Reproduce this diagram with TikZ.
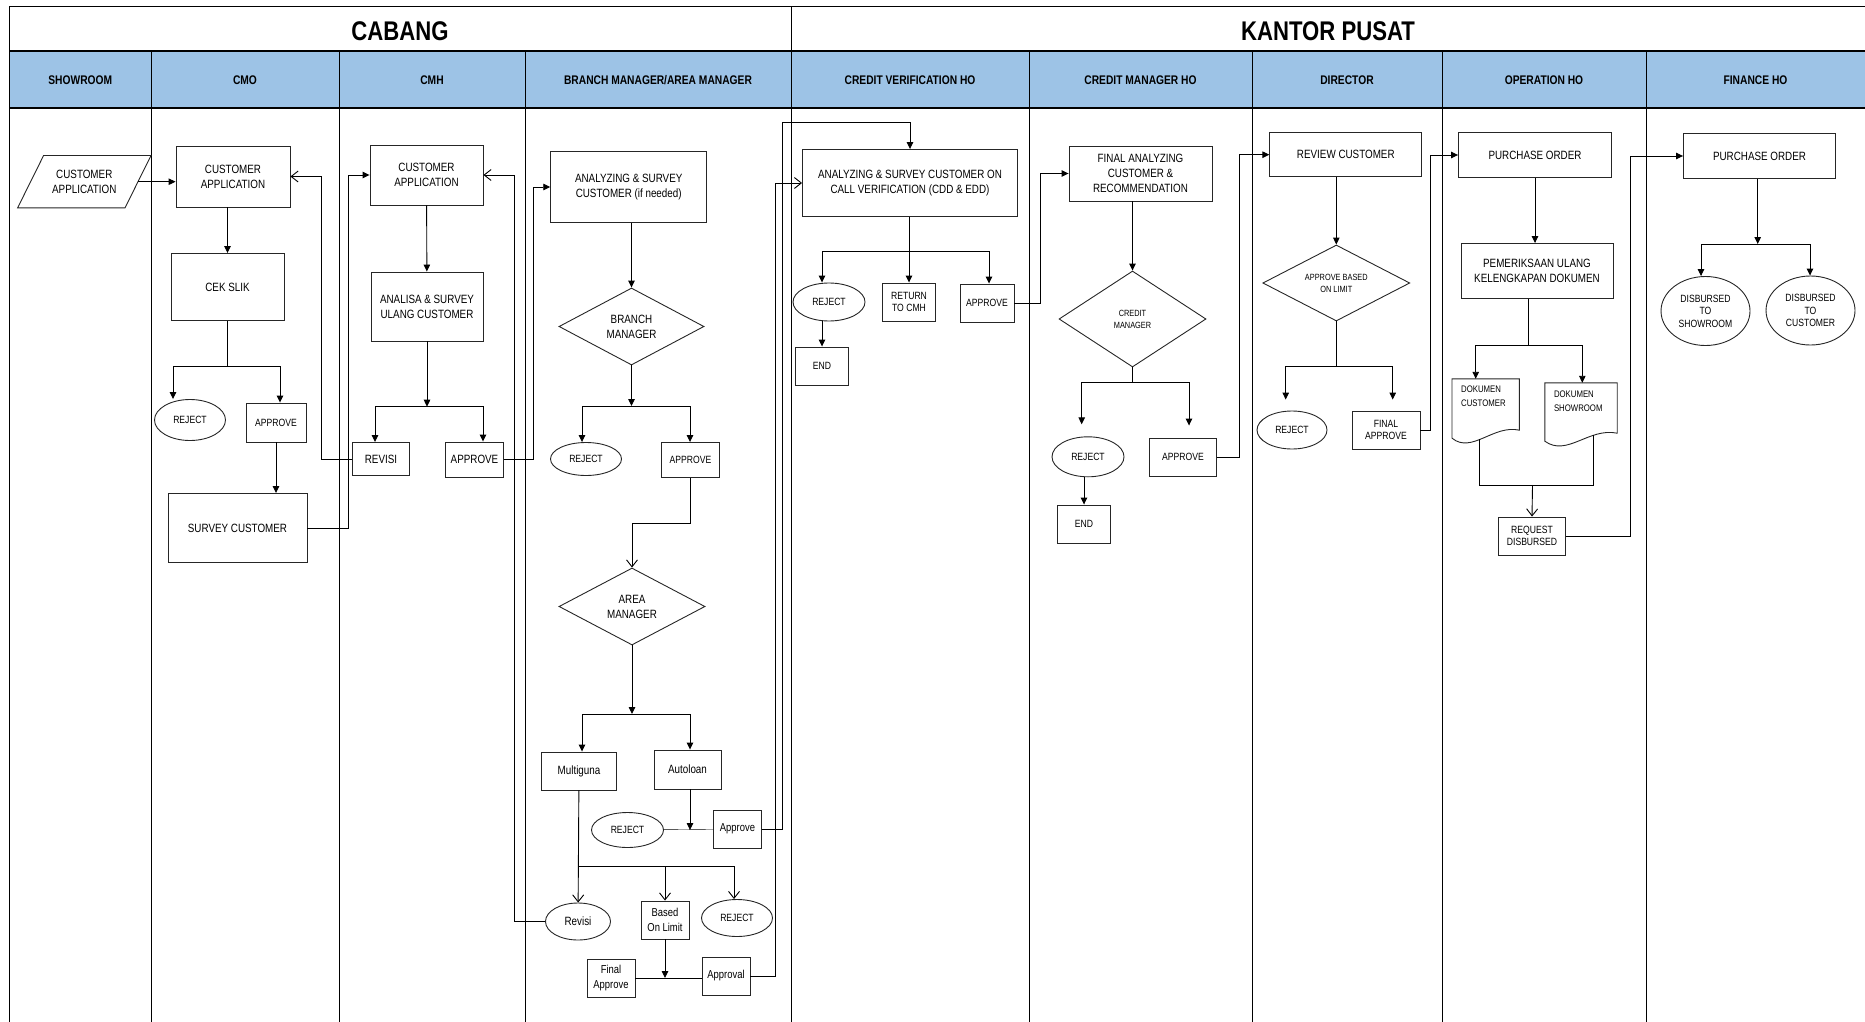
\documentclass[tikz,border=0pt]{standalone}
\usepackage{fontspec}
\setmainfont{Liberation Sans}[FakeStretch=0.82]
\usetikzlibrary{arrows.meta,shapes.geometric,positioning,calc}

\definecolor{headblue}{RGB}{157,195,230}
\newcommand{\fa}{\fontsize{12}{15}\selectfont}
\newcommand{\fb}{\fontsize{10.5}{12.5}\selectfont}
\newcommand{\fc}{\fontsize{9}{12}\selectfont}
\newcommand{\fd}{\fontsize{11.5}{15}\selectfont}
\newcommand{\docshape}[1]{%
  \draw[line width=0.9pt, draw=black!85] (#1.north west) -- (#1.north east) -- ([yshift=12pt]#1.south east)
    .. controls ([xshift=8pt,yshift=18pt]#1.south) and ([xshift=-14pt,yshift=-12pt]#1.south) .. ([yshift=4pt]#1.south west) -- cycle;}

\tikzset{
  sz/.style 2 args={minimum width=#1pt, minimum height=#2pt},
  box/.style={draw=black!85, line width=0.9pt, rectangle, align=center, inner sep=1pt, font=\fa},
  oval/.style={draw=black!85, line width=0.9pt, ellipse, align=center, inner sep=0pt, font=\fb},
  dec/.style={draw=black!85, line width=0.9pt, diamond, aspect=2, align=center, inner sep=0pt, font=\fa},
  docbox/.style={rectangle, inner sep=0pt},
  doctext/.style={align=left, inner sep=0pt, font=\fontsize{9.5}{14}\selectfont},
  arr/.style={-{Triangle[length=7pt,width=6.5pt]}, line width=0.9pt},
  oarr/.style={-{Straight Barb[length=7pt,width=11pt]}, line width=0.9pt},
  lanehead/.style={font=\bfseries\fontsize{12.5}{14}\selectfont},
  bigtitle/.style={font=\bfseries\fontsize{27}{30}\selectfont},
}

\begin{document}
\begin{tikzpicture}[x=1pt, y=-1pt]
\useasboundingbox (0,0) rectangle (1865,1022);

% lanes
\fill[headblue] (9.5,51) rectangle (1865,108);
\draw[line width=1pt] (9.5,1022) -- (9.5,7) -- (1865,7);
\draw[line width=2.5pt] (9.5,51) -- (1865,51);
\draw[line width=1.8pt] (9.5,108) -- (1865,108);
\draw[line width=1pt] (791,7) -- (791,1022);
\foreach \x in {151,339,525,1029,1252,1442,1646}
  \draw[line width=1pt] (\x,51) -- (\x,1022);
\node[bigtitle] (cabang) at (400,31) {CABANG};
\node[bigtitle] (pusat) at (1328,31) {KANTOR PUSAT};
\foreach \xa/\xb/\lbl [count=\i] in {9.5/151/SHOWROOM, 151/339/CMO, 339/525/CMH,
    525/791/{BRANCH MANAGER/AREA MANAGER}, 791/1029/CREDIT VERIFICATION HO,
    1029/1252/CREDIT MANAGER HO, 1252/1442/DIRECTOR, 1442/1646/OPERATION HO, 1646/1865/FINANCE HO}
  \node[lanehead] (lane\i) at ({(\xa+\xb)/2},80) {\lbl};

% showroom
\node[docbox, font=\fa, align=center, sz={133}{52}] (srApp) at (84.3,181.7) {CUSTOMER\\APPLICATION};
\draw[line width=0.9pt, draw=black!85] ([xshift=26pt]srApp.north west) -- (srApp.north east)
  -- ([xshift=-26pt]srApp.south east) -- (srApp.south west) -- cycle;
\coordinate (srOut) at ([xshift=-13pt]srApp.east);

% cmo
\node[box, sz={114}{61}] (cmoApp) at (233,176.5) {CUSTOMER\\APPLICATION};
\node[box, sz={113}{67}] (cmoSlik) at (227.5,287) {CEK SLIK};
\node[oval, sz={71}{41}] (cmoRej) at (190,420) {REJECT};
\node[box, font=\fb, sz={60}{39}] (cmoApr) at (276,422.5) {APPROVE};
\node[box, sz={139}{69}] (cmoSurvey) at (237.5,528) {SURVEY CUSTOMER};

% cmh
\node[box, sz={113}{60}] (cmhApp) at (426.5,175) {CUSTOMER\\APPLICATION};
\node[box, sz={112}{69}] (cmhAna) at (427,306.5) {ANALISA \& SURVEY\\ULANG CUSTOMER};
\node[box, sz={57}{33}] (cmhRev) at (381,459) {REVISI};
\node[box, sz={58}{35}] (cmhApr) at (474.5,459.5) {APPROVE};

% branch manager / area manager
\node[box, sz={156}{71}] (bmAna) at (628.7,187) {ANALYZING \& SURVEY\\CUSTOMER (if needed)};
\node[dec, sz={145}{77}] (bmDec) at (631.5,326.5) {BRANCH\\MANAGER};
\node[oval, sz={71}{33}] (bmRej) at (586,459) {REJECT};
\node[box, font=\fb, sz={58}{35}] (bmApr) at (690.5,460) {APPROVE};
\node[dec, sz={146}{77}] (amDec) at (632,606.5) {AREA\\MANAGER};
\node[box, sz={75}{38}] (amMulti) at (579,771) {Multiguna};
\node[box, sz={67}{39}] (amAuto) at (687.5,769.5) {Autoloan};
\node[oval, sz={72}{35}] (amRej) at (627.5,830) {REJECT};
\node[box, font=\fd, sz={48}{38}] (amApr) at (737.5,829) {Approve};
\node[oval, font=\fa, sz={65}{37}] (amRev) at (578,921.5) {Revisi};
\node[box, font=\fd, sz={48}{38}] (amBol) at (665,920) {Based\\On Limit};
\node[oval, sz={71}{37}] (amRej2) at (737,918) {REJECT};
\node[box, font=\fd, sz={48}{38}] (amFin) at (611,978) {Final\\Approve};
\node[box, font=\fd, sz={48}{38}] (amAppr) at (726,976) {Approval};

% credit verification ho
\node[box, sz={215}{67}] (cvBox) at (910,183) {ANALYZING \& SURVEY CUSTOMER ON\\CALL VERIFICATION (CDD \& EDD)};
\node[oval, sz={72}{38}] (cvRej) at (829,302) {REJECT};
\node[box, font=\fb, sz={53}{38}] (cvRet) at (909,302) {RETURN\\TO CMH};
\node[box, font=\fb, sz={54}{38}] (cvApr) at (987,303) {APPROVE};
\node[box, font=\fb, sz={53}{38}] (cvEnd) at (822,366) {END};

% credit manager ho
\node[box, sz={143}{55}] (fnBox) at (1140.5,173.5) {FINAL ANALYZING\\CUSTOMER \&\\RECOMMENDATION};
\node[dec, font=\fc, sz={147}{96}] (cmDec) at (1132.5,319) {CREDIT\\MANAGER};
\node[oval, sz={72}{40}] (cmRej) at (1088,456.8) {REJECT};
\node[box, font=\fb, sz={67}{38}] (cmApr) at (1183,457) {APPROVE};
\node[box, font=\fb, sz={53}{38}] (cmEnd) at (1084,524) {END};

% director
\node[box, sz={152}{44}] (revBox) at (1345.8,154.7) {REVIEW CUSTOMER};
\node[dec, font=\fc, sz={147}{76}] (dirDec) at (1336.3,283) {APPROVE BASED\\ON LIMIT};
\node[oval, sz={70}{38}] (dirRej) at (1292,430) {REJECT};
\node[box, font=\fb, sz={68}{38}] (dirFin) at (1386,430) {FINAL\\APPROVE};

% operation ho
\node[box, sz={153}{45}] (opPO) at (1535,155) {PURCHASE ORDER};
\node[box, sz={152}{55}] (opChk) at (1537,271) {PEMERIKSAAN ULANG\\KELENGKAPAN DOKUMEN};
\node[docbox, sz={67}{63}] (opDocC) at (1485.7,410.5) {};
\node[docbox, sz={72}{62}] (opDocS) at (1581,414) {};
\docshape{opDocC}
\docshape{opDocS}
\node[doctext, anchor=north west] (opDocCt) at ([xshift=9pt,yshift=-7pt]opDocC.north west) {DOKUMEN\\CUSTOMER};
\node[doctext, anchor=north west] (opDocSt) at ([xshift=9pt,yshift=-8pt]opDocS.north west) {DOKUMEN\\SHOWROOM};
\node[box, font=\fb, sz={67}{38}] (opReq) at (1532,536) {REQUEST\\DISBURSED};

% finance ho
\node[box, sz={152}{45}] (fiPO) at (1759.5,156) {PURCHASE ORDER};
\node[oval, sz={89}{69}] (fiShow) at (1705.5,311) {DISBURSED\\TO\\SHOWROOM};
\node[oval, sz={89}{69}] (fiCust) at (1810.5,310.5) {DISBURSED\\TO\\CUSTOMER};

% bend points
\coordinate (cmoJl) at (173,366);
\coordinate (cmoJr) at (280,366);
\coordinate (svUp) at ($(cmhApp.west)+(-21,0)$);
\coordinate (rvUp) at ($(cmoApp.east)+(30.5,0)$);
\coordinate (cmhJ) at (427,406.7);
\coordinate (cmhJl) at (375,406.7);
\coordinate (cmhJr) at (483,406.7);
\coordinate (apUp) at ($(bmAna.west)+(-17,0)$);
\coordinate (bmJ) at (631.5,406);
\coordinate (bmJl) at (582,406);
\coordinate (bmJr) at (690,406);
\coordinate (amBend) at (632,523);
\coordinate (amJ) at (632,714);
\coordinate (amJl) at (582,714);
\coordinate (amJr) at (690,714);
\coordinate (aaUp) at (782,122);
\coordinate (muJ) at (578.5,866);
\coordinate (muJm) at (665,866);
\coordinate (muJr) at (734,866);
\coordinate (alUp) at ($(cvBox.west)+(-26.7,0)$);
\coordinate (rvBack) at ($(cmhApp.east)+(31,0)$);
\coordinate (cvJ) at (909,251.7);
\coordinate (cvJl) at (822,251.7);
\coordinate (cvJr) at (989,251.7);
\coordinate (cvUp) at ($(fnBox.west)+(-28,0)$);
\coordinate (cmJ) at (1132.5,382.7);
\coordinate (cmJl) at (1081.7,382.7);
\coordinate (cmJr) at (1189,382.7);
\coordinate (cmUp) at ($(revBox.west)+(-30,0)$);
\coordinate (dirJ) at (1336.3,366);
\coordinate (dirJl) at (1285.7,366);
\coordinate (dirJr) at (1392.7,366);
\coordinate (dfUp) at ($(opPO.west)+(-28,0)$);
\coordinate (opJ) at (1528,345);
\coordinate (opJl) at (1475.7,345);
\coordinate (opJr) at (1582.3,345);
\coordinate (dcOutL) at ($(opDocC.south)+(-6.4,-3)$);
\coordinate (dcOutR) at ($(opDocS.south)+(12.3,-10)$);
\coordinate (dcJl) at (1479.3,485);
\coordinate (dcJr) at (1593.3,485);
\coordinate (dcJ) at (1532.5,485);
\coordinate (rqUp) at ($(fiPO.west)+(-52.6,0)$);
\coordinate (fiJ) at (1757.7,244);
\coordinate (fiJl) at (1701,244);
\coordinate (fiJr) at (1810,244);

% cabang flow
\draw[arr] (srOut) -- (srOut -| cmoApp.west);
\draw[arr] (cmoApp.south -| cmoSlik) -- (cmoSlik.north);
\draw[arr] (cmoSlik.south) |- (cmoJl) -- (cmoJl |- cmoRej.north);
\draw[arr] (cmoJl) -- (cmoJr) -- (cmoJr |- cmoApr.north);
\draw[arr] (cmoApr) -- (cmoApr |- cmoSurvey.north);
\draw[arr] (cmoSurvey.east) -| (svUp) -- (cmhApp.west);
\draw[oarr] (cmhRev.west) -| (rvUp) -- (cmoApp.east);
\draw[arr] (cmhApp) -- (cmhAna);
\draw[arr] (cmhAna) -- (cmhJ);
\draw[arr] (cmhJ) -- (cmhJl) -- (cmhJl |- cmhRev.north);
\draw[arr] (cmhJ) -- (cmhJr) -- (cmhJr |- cmhApr.north);
\draw[arr] (cmhApr.east) -| (apUp) -- (bmAna.west);
\draw[arr] (bmAna.south -| bmDec) -- (bmDec.north);
\draw[arr] (bmDec) -- (bmJ);
\draw[arr] (bmJ) -- (bmJl) -- (bmJl |- bmRej.north);
\draw[arr] (bmJ) -- (bmJr) -- (bmJr |- bmApr.north);
\draw[oarr] (bmApr.south) |- (amBend) -- (amDec.north);
\draw[arr] (amDec) -- (amJ);
\draw[arr] (amJ) -- (amJl) -- (amJl |- amMulti.north);
\draw[arr] (amJ) -- (amJr) -- (amJr |- amAuto.north);
\draw (amRej) -- (amApr);
\draw[arr] (amAuto.south -| amJr) -- (amJr |- amRej.east);
\draw[arr] (amApr.east) -| (aaUp) -| (cvBox.north);
\draw[oarr] (amMulti) -- (amRev);
\draw[oarr] (muJ) -- (muJm) -- (amBol.north);
\draw[oarr] (muJm) -- (muJr) -- (muJr |- amRej2.north);
\draw (amFin.east) -- (amFin.east -| amAppr.west);
\draw[arr] (amBol.south) -- (amBol.south |- amFin.east);
\draw[oarr] (amAppr.east) -| (alUp) -- (cvBox.west);
\draw[oarr] (amRev.west) -| (rvBack) -- (cmhApp.east);

% kantor pusat flow
\draw[arr] (cvBox.south -| cvRet) -- (cvRet.north);
\draw[arr] (cvJ) -- (cvJl) -- (cvJl |- cvRej.north);
\draw[arr] (cvJ) -- (cvJr) -- (cvJr |- cvApr.north);
\draw[arr] (cvRej.south -| cvEnd) -- (cvEnd.north);
\draw[arr] (cvApr.east) -| (cvUp) -- (fnBox.west);
\draw[arr] (fnBox.south -| cmDec) -- (cmDec.north);
\draw (cmDec.south) -- (cmJ);
\draw[arr, shorten >=12pt] (cmJ) -- (cmJl) -- (cmJl |- cmRej.north);
\draw[arr, shorten >=12pt] (cmJ) -- (cmJr) -- (cmJr |- cmApr.north);
\draw[arr] (cmRej.south -| cmEnd) -- (cmEnd.north);
\draw[arr] (cmApr.east) -| (cmUp) -- (revBox.west);
\draw[arr] (revBox.south -| dirDec) -- (dirDec.north);
\draw (dirDec.south) -- (dirJ);
\draw[arr, shorten >=11pt] (dirJ) -- (dirJl) -- (dirJl |- dirRej.north);
\draw[arr, shorten >=11pt] (dirJ) -- (dirJr) -- (dirJr |- dirFin.north);
\draw[arr] (dirFin.east) -| (dfUp) -- (opPO.west);
\draw[arr] (opPO.south) -- (opPO.south |- opChk.north);
\draw (opChk.south -| opJ) -- (opJ);
\draw[arr] (opJ) -- (opJl) -- (opJl |- opDocC.north);
\draw[arr] (opJ) -- (opJr) -- (opJr |- opDocS.north);
\draw (dcOutL) -- (dcJl) -- (dcJr) -- (dcOutR);
\draw[oarr] (dcJ) -- (opReq.north);
\draw[arr] (opReq.east) -| (rqUp) -- (fiPO.west);
\draw[arr] (fiPO.south -| fiJ) -- (fiJ);
\draw[arr] (fiJ) -- (fiJl) -- (fiJl |- fiShow.north);
\draw[arr] (fiJ) -- (fiJr) -- (fiJr |- fiCust.north);
\end{tikzpicture}
\end{document}
